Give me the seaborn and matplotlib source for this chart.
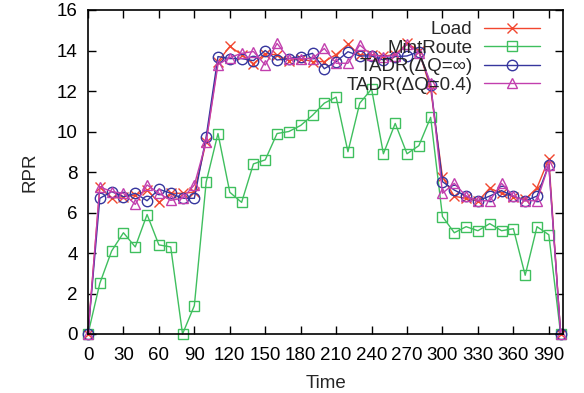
import matplotlib
matplotlib.use("Agg")
import matplotlib.pyplot as plt
import seaborn as sns
import pandas as pd

# Sampling instants (s)
time = [0, 10, 20, 30, 40, 50, 60, 70, 80, 90,
        100, 110, 120, 130, 140, 150, 160, 170, 180, 190,
        200, 210, 220, 230, 240, 250, 260, 270, 280, 290,
        300, 310, 320, 330, 340, 350, 360, 370, 380, 390,
        400]

load = [0, 7.25, 6.7, 6.78, 6.85, 7.1, 6.5, 6.95, 6.95, 7.0,
        9.5, 13.45, 14.2, 13.8, 13.35, 13.85, 13.78, 13.5, 13.6, 13.45,
        13.45, 13.8, 14.3, 13.78, 13.8, 13.72, 13.8, 14.35, 14.0, 12.1,
        7.75, 6.8, 6.7, 6.55, 7.2, 6.95, 6.78, 6.65, 7.22, 8.65,
        0]

mintroute = [0, 2.5, 4.1, 5.0, 4.3, 5.9, 4.4, 4.3, 0, 1.4,
             7.5, 9.9, 7.0, 6.5, 8.4, 8.6, 9.9, 10.0, 10.3, 10.8,
             11.4, 11.7, 9.0, 11.4, 12.1, 8.9, 10.4, 8.9, 9.3, 10.7,
             5.8, 5.0, 5.3, 5.1, 5.45, 5.1, 5.2, 2.9, 5.3, 4.9,
             0]

tadr_inf = [0, 6.7, 7.03, 6.78, 6.95, 6.58, 7.15, 6.95, 6.7, 6.7,
            9.74, 13.7, 13.6, 13.6, 13.5, 14.0, 13.53, 13.6, 13.7, 13.86,
            13.1, 13.45, 13.94, 13.73, 13.73, 13.53, 13.7, 13.73, 13.94, 12.3,
            7.52, 7.11, 6.81, 6.58, 6.81, 7.08, 6.81, 6.58, 6.81, 8.35,
            0]

tadr_04 = [0, 7.27, 7.03, 6.95, 6.4, 7.36, 6.95, 6.6, 6.7, 7.36,
           9.5, 13.3, 13.65, 13.86, 13.95, 13.28, 14.35, 13.6, 13.6, 13.6,
           14.1, 13.37, 13.37, 14.27, 13.78, 13.7, 13.75, 14.3, 13.9, 12.4,
           6.95, 7.44, 6.81, 6.58, 6.58, 7.44, 6.81, 6.58, 6.58, 8.35,
           0]

series_names = ["Load", "MintRoute", "TADR(\u0394Q=\u221e)", "TADR(\u0394Q=0.4)"]
series_values = [load, mintroute, tadr_inf, tadr_04]
colors = ["#f2472f", "#3fbf5e", "#36369e", "#c23fae"]
markers = ["x", "s", "o", "^"]
msizes = [7.5, 7.5, 7.5, 7.5]

FS = 13.5

sns.set_theme(style="ticks")
plt.rcParams["font.family"] = ["Liberation Sans", "DejaVu Sans"]
plt.rcParams["font.size"] = FS

df = pd.DataFrame({"Time": time})
for name, vals in zip(series_names, series_values):
    df[name] = vals

fig = plt.figure(figsize=(5.84, 3.93), dpi=100)
ax = fig.add_axes([88 / 584, 1 - 334 / 393, 475 / 584, 324 / 393])

for name, c, m, ms in zip(series_names, colors, markers, msizes):
    sns.lineplot(data=df, x="Time", y=name, ax=ax, color=c, lw=1.0,
                 marker=m, markersize=ms, markerfacecolor="none",
                 markeredgecolor=c, markeredgewidth=1.0, label=name,
                 clip_on=False)

ax.set_xlim(0, 402)
ax.set_ylim(0, 16)
ax.set_xticks(list(range(0, 391, 30)))
ax.set_yticks(list(range(0, 17, 2)))
ax.tick_params(direction="in", length=6, width=1, top=True, right=True,
               labelsize=FS, colors="black")
ax.tick_params(axis="x", labeltop=False, pad=9)
ax.tick_params(axis="y", labelright=False, pad=7.5)
for sp in ax.spines.values():
    sp.set_linewidth(1.2)
    sp.set_color("black")
ax.set_xlabel("Time", fontsize=FS, labelpad=8)
ax.set_ylabel("RPR", fontsize=FS, labelpad=13)

leg = ax.legend(loc="upper right", bbox_to_anchor=(452 / 475, 1 - 11 / 324),
                markerfirst=False, frameon=False, fontsize=FS,
                handlelength=3.0, handletextpad=0.6, labelspacing=0.08,
                borderaxespad=0, borderpad=0)
leg.set_zorder(10)

fig.savefig("out.png", dpi=100)
